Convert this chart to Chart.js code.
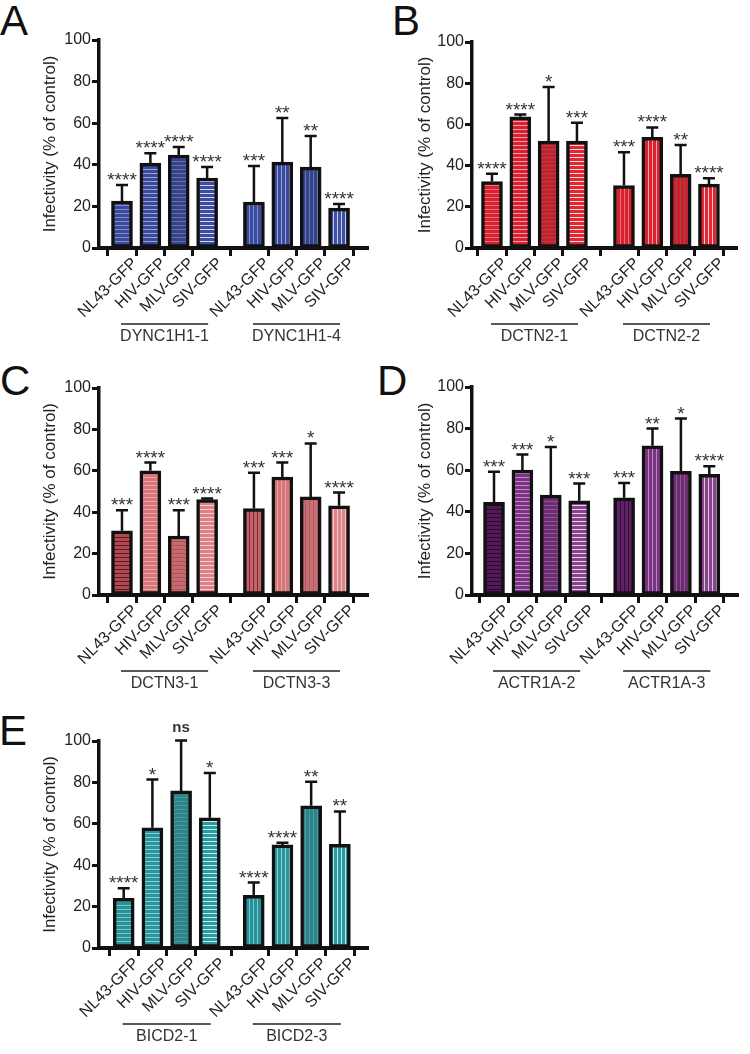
<!DOCTYPE html>
<html>
<head>
<meta charset="utf-8">
<script src="https://cdn.jsdelivr.net/npm/chart.js@4.4.1/dist/chart.umd.min.js"></script>
<style>
  body { margin: 0; background: #fff; width: 750px; height: 1054px; position: relative; overflow: hidden;
         font-family: "Liberation Sans", Arial, sans-serif; }
  canvas { position: absolute; }
  .letter { position: absolute; font-size: 42px; line-height: 42px; color: #111; }
</style>
</head>
<body>
<div class="letter" style="left:0px;top:0px">A</div>
<div class="letter" style="left:392px;top:0px">B</div>
<div class="letter" style="left:0px;top:360px">C</div>
<div class="letter" style="left:377px;top:360px">D</div>
<div class="letter" style="left:-1px;top:710px">E</div>

<canvas id="chartA" width="375" height="350" style="left:0;top:0"></canvas>
<canvas id="chartB" width="375" height="350" style="left:375px;top:0"></canvas>
<canvas id="chartC" width="375" height="360" style="left:0;top:340px"></canvas>
<canvas id="chartD" width="375" height="360" style="left:375px;top:340px"></canvas>
<canvas id="chartE" width="375" height="354" style="left:0;top:700px"></canvas>

<script>
const FONT = '"Liberation Sans", Arial, sans-serif';

const viruses = ['NL43-GFP', 'HIV-GFP', 'MLV-GFP', 'SIV-GFP'];
const yTicks = [0, 20, 40, 60, 80, 100];

// A - dynein heavy chain
const groupsA = ['DYNC1H1-1', 'DYNC1H1-4'];
const meansA = [22.6, 40.8, 44.7, 33.6, 22.1, 41.3, 38.9, 19.2];
const sdA = [7.7, 4.8, 3.9, 5.4, 17.3, 21.2, 14.9, 2.0];
const starsA = ['****', '****', '****', '****', '***', '**', '**', '****'];

// B
const groupsB = ['DCTN2-1', 'DCTN2-2'];
const meansB = [32.3, 63.7, 51.9, 51.9, 30.3, 53.7, 35.8, 31.0];
const sdB = [3.7, 1.1, 26.3, 8.9, 16.2, 4.8, 14.2, 2.9];
const starsB = ['****', '****', '*', '***', '***', '****', '**', '****'];

// C
const groupsC = ['DCTN3-1', 'DCTN3-3'];
const meansC = [31.0, 60.0, 28.5, 46.1, 41.8, 57.0, 47.4, 43.1];
const sdC = [10.0, 4.0, 12.5, 0.5, 17.2, 7.0, 25.8, 6.4];
const starsC = ['***', '****', '***', '****', '***', '***', '*', '****'];

// D
const groupsD = ['ACTR1A-2', 'ACTR1A-3'];
const meansD = [44.5, 60.0, 48.0, 45.3, 46.7, 71.7, 59.5, 58.0];
const sdD = [14.7, 7.5, 23.2, 8.3, 7.2, 8.3, 25.3, 3.9];
const starsD = ['***', '***', '*', '***', '***', '**', '*', '****'];

// E
const groupsE = ['BICD2-1', 'BICD2-3'];
const meansE = [24.0, 58.1, 75.9, 62.9, 25.4, 49.8, 68.7, 50.1];
const sdE = [4.9, 23.3, 24.4, 21.7, 6.2, 1.1, 11.6, 15.9];
const starsE = ['****', '*', 'ns', '*', '****', '****', '**', '**'];

function stripes(base, line, vertical) {
  const c = document.createElement('canvas');
  c.width = 4; c.height = 4;
  const g = c.getContext('2d');
  g.fillStyle = base;
  g.fillRect(0, 0, 4, 4);
  g.fillStyle = line;
  if (vertical) g.fillRect(1, 0, 1, 4); else g.fillRect(0, 1, 4, 1);
  return g.createPattern(c, 'repeat');
}

function panel(id, groups, means, sd, stars, look) {
  const pos = means.map((_, i) => i < 4 ? i : i - 1 + look.gap);
  const fills = means.map((_, i) => stripes(look.base[i], look.line[i], i >= 4));

  const extras = {
    id: 'extras',
    afterDatasetsDraw(chart) {
      const ctx = chart.ctx, xs = chart.scales.x, ys = chart.scales.y;
      chart.getDatasetMeta(0).data.forEach((bar, i) => {
        const top = ys.getPixelForValue(means[i] + sd[i]);
        ctx.save();
        ctx.strokeStyle = '#111';
        ctx.lineWidth = 2.5;
        ctx.beginPath();
        ctx.moveTo(bar.x, bar.y);
        ctx.lineTo(bar.x, top);
        ctx.moveTo(bar.x - 6, top);
        ctx.lineTo(bar.x + 6, top);
        ctx.stroke();
        ctx.textAlign = 'center';
        ctx.fillStyle = '#333';
        if (stars[i] === 'ns') {
          ctx.font = 'bold 15px ' + FONT;
          ctx.fillText('ns', bar.x, top - 8);
        } else {
          ctx.font = '19px ' + FONT;
          ctx.fillText(stars[i], bar.x, top + 1);
        }
        ctx.restore();
      });
      const ca = chart.chartArea;
      groups.forEach((name, k) => {
        const x1 = xs.getPixelForValue(pos[4 * k]) - 1;
        const x2 = xs.getPixelForValue(pos[4 * k + 3]) + 1;
        const y = ca.bottom + 76;
        ctx.save();
        ctx.strokeStyle = '#222';
        ctx.lineWidth = 1.4;
        ctx.beginPath();
        ctx.moveTo(x1, y);
        ctx.lineTo(x2, y);
        ctx.stroke();
        ctx.fillStyle = '#333';
        ctx.font = '16px ' + FONT;
        ctx.textAlign = 'center';
        ctx.textBaseline = 'middle';
        ctx.fillText(name, (x1 + x2) / 2, y + 13);
        ctx.restore();
      });
    }
  };

  new Chart(document.getElementById(id), {
    type: 'bar',
    data: {
      datasets: [{
        data: means.map((m, i) => ({ x: pos[i], y: m })),
        backgroundColor: fills,
        borderColor: '#111',
        borderWidth: 3.5,
        borderSkipped: false,
        barThickness: 21
      }]
    },
    options: {
      responsive: false,
      animation: false,
      devicePixelRatio: 1,
      layout: { padding: { left: 36, top: look.top, right: look.right, bottom: 0 } },
      plugins: { legend: { display: false }, tooltip: { enabled: false } },
      scales: {
        x: {
          type: 'linear',
          min: look.min,
          max: look.max,
          offset: false,
          afterBuildTicks: s => { s.ticks = pos.map(v => ({ value: v })); },
          afterFit: s => { s.height = look.h - look.bottom; },
          grid: { drawOnChartArea: false, drawTicks: true, tickLength: 8, tickWidth: 3, tickColor: '#111' },
          border: { display: true, width: 4, color: '#111' },
          ticks: {
            autoSkip: false, minRotation: 45, maxRotation: 45, padding: -2, labelOffset: 13,
            color: '#222', font: { size: 16, family: FONT },
            callback: (v, i) => viruses[i % 4]
          }
        },
        y: {
          min: 0,
          max: 100,
          afterBuildTicks: s => { s.ticks = yTicks.map(v => ({ value: v })); },
          afterFit: s => { s.width = look.left - 36; },
          grid: { drawOnChartArea: false, drawTicks: true, tickLength: 7, tickWidth: 3, tickColor: '#111' },
          border: { display: true, width: 3.5, color: '#111' },
          ticks: { padding: 1, color: '#222', font: { size: 16, family: FONT } },
          title: {
            display: true, text: 'Infectivity (% of control)', color: '#222',
            font: { size: 17, family: FONT }, padding: { top: 4, bottom: 4 }
          }
        }
      }
    },
    plugins: [extras]
  });
}

panel('chartA', groupsA, meansA, sdA, starsA, {
  left: 99, top: 40, bottom: 248, h: 350, right: 7, gap: 1.65, min: -0.81, max: 8.67,
  base: ['#3a4a9c', '#3a4a9c', '#34438f', '#3d4da0', '#3a4a9c', '#3a4a9c', '#34438f', '#4050a3'],
  line: ['#848dcb', '#9aa2da', '#6c729e', '#d4d8f0', '#848dcb', '#9aa2da', '#6c729e', '#c2c8ea']
});
panel('chartB', groupsB, meansB, sdB, starsB, {
  left: 97, top: 42, bottom: 248, h: 350, right: 13, gap: 1.66, min: -0.705, max: 8.65,
  base: ['#d9222f', '#d9222f', '#c81f2d', '#de2a37', '#d9222f', '#d9222f', '#c81f2d', '#de2a37'],
  line: ['#ee6d76', '#f4a3a8', '#a8444c', '#ffd6d8', '#ee6d76', '#f4a3a8', '#a8444c', '#ffc9cc']
});
panel('chartC', groupsC, meansC, sdC, starsC, {
  left: 99, top: 48, bottom: 255, h: 360, right: 7, gap: 1.65, min: -0.81, max: 8.67,
  base: ['#b04a52', '#d8767b', '#c9676d', '#de8287', '#c5636a', '#d4757a', '#cc6d73', '#dc878c'],
  line: ['#5e1a1f', '#eba6a9', '#9f585c', '#f8d0d2', '#7a2a30', '#eaa2a5', '#a46266', '#f3c3c5']
});
panel('chartD', groupsD, meansD, sdD, starsD, {
  left: 97, top: 47, bottom: 255, h: 360, right: 12, gap: 1.58, min: -0.775, max: 8.59,
  base: ['#521858', '#7b3283', '#6d2b74', '#86458d', '#5f2066', '#7b3283', '#6d2b74', '#86458d'],
  line: ['#2a0630', '#c08dc4', '#8c5c91', '#e6cfe8', '#331038', '#b987bd', '#8c5c91', '#dcc3df']
});
panel('chartE', groupsE, meansE, sdE, starsE, {
  left: 99, top: 41, bottom: 248, h: 354, right: 7, gap: 1.53, min: -0.86, max: 8.51,
  base: ['#28929a', '#2a969c', '#25888e', '#2c9aa0', '#28929a', '#2a969c', '#25888e', '#2c9aa0'],
  line: ['#7cc6ca', '#8fcfd3', '#628f92', '#c8eff1', '#7cc6ca', '#8fcfd3', '#628f92', '#b8e8eb']
});
</script>
</body>
</html>
